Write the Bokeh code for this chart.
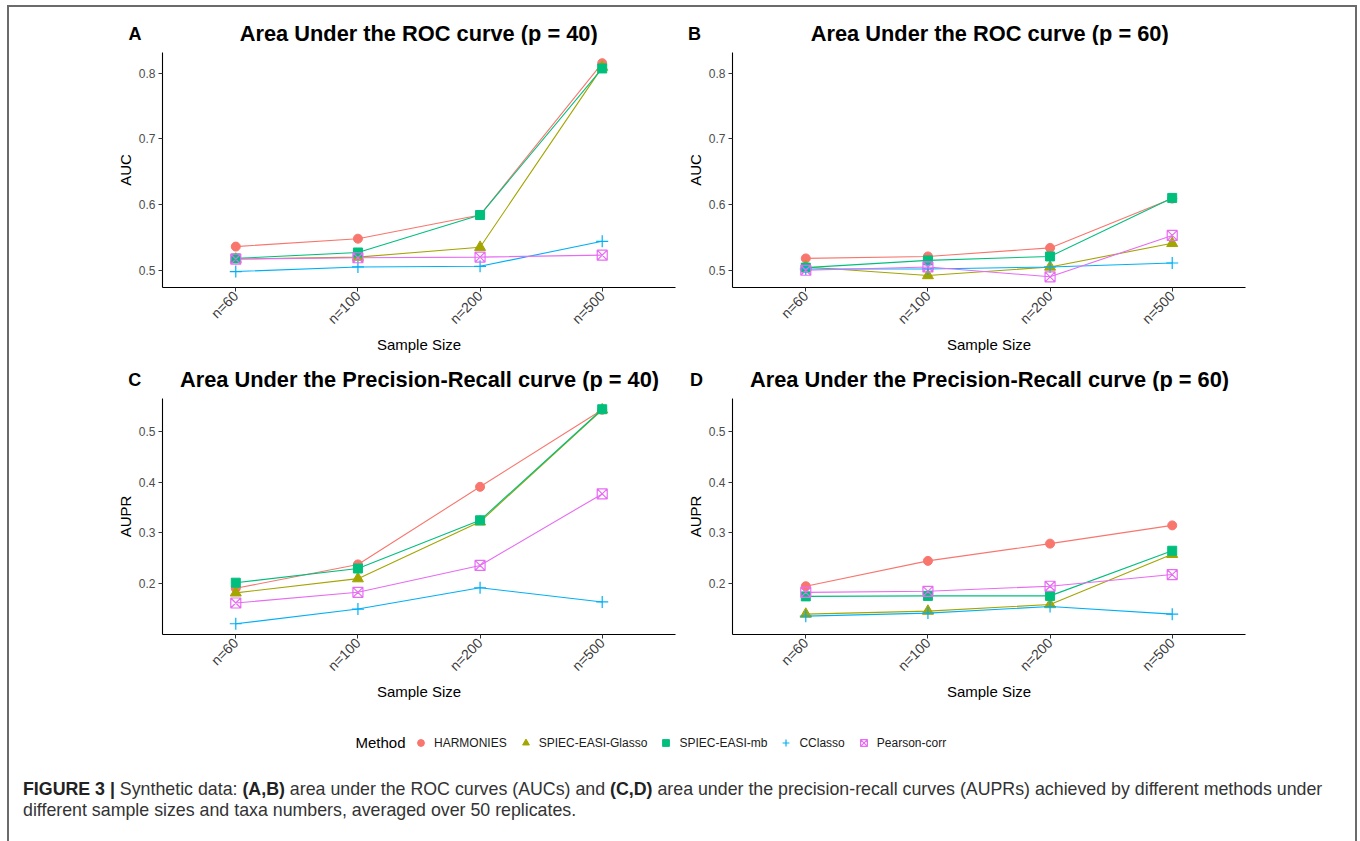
import math
from bokeh.plotting import figure
from bokeh.models import FactorRange, Range1d, FixedTicker, Label, Legend, LegendItem, Div, Spacer
from bokeh.layouts import row, column
from bokeh.embed import file_html
from bokeh.resources import INLINE

# ---------------- data ----------------
sample_sizes = ["n=60", "n=100", "n=200", "n=500"]
methods = ["HARMONIES", "SPIEC-EASI-Glasso", "SPIEC-EASI-mb", "CClasso", "Pearson-corr"]

# (A) AUC, p = 40
auc40_harmonies = [0.536, 0.548, 0.584, 0.815]
auc40_glasso = [0.517, 0.520, 0.535, 0.809]
auc40_mb = [0.518, 0.527, 0.584, 0.807]
auc40_cclasso = [0.498, 0.505, 0.506, 0.544]
auc40_pearson = [0.517, 0.519, 0.520, 0.523]

# (B) AUC, p = 60
auc60_harmonies = [0.518, 0.521, 0.534, 0.609]
auc60_glasso = [0.505, 0.492, 0.505, 0.541]
auc60_mb = [0.504, 0.515, 0.521, 0.610]
auc60_cclasso = [0.502, 0.502, 0.505, 0.511]
auc60_pearson = [0.500, 0.505, 0.490, 0.553]

# (C) AUPR, p = 40
aupr40_harmonies = [0.191, 0.238, 0.391, 0.543]
aupr40_glasso = [0.182, 0.210, 0.322, 0.543]
aupr40_mb = [0.202, 0.230, 0.325, 0.544]
aupr40_cclasso = [0.121, 0.150, 0.192, 0.164]
aupr40_pearson = [0.162, 0.183, 0.236, 0.377]

# (D) AUPR, p = 60
aupr60_harmonies = [0.195, 0.245, 0.279, 0.315]
aupr60_glasso = [0.140, 0.146, 0.159, 0.258]
aupr60_mb = [0.175, 0.176, 0.176, 0.265]
aupr60_cclasso = [0.136, 0.142, 0.155, 0.140]
aupr60_pearson = [0.183, 0.185, 0.195, 0.218]

auc_ticks = [0.5, 0.6, 0.7, 0.8]
aupr_ticks = [0.2, 0.3, 0.4, 0.5]

# ---------------- style ----------------
FONT = "Liberation Sans"
colors = ["#F8766D", "#A3A500", "#00BF7D", "#00B0F6", "#E76BF3"]
markers = ["circle", "triangle", "square", "cross", "square_x"]
msizes = [9, 11, 9, 12, 10]
PAGE_W = 1346


def draw_lines(p, values_list, visible=True):
    return [p.line(x=sample_sizes, y=vals, line_color=c, line_width=1.1, visible=visible)
            for vals, c in zip(values_list, colors)]


def draw_points(p, values_list, visible=True):
    out = []
    for vals, c, mk, sz in zip(values_list, colors, markers, msizes):
        if mk in ("cross", "square_x"):
            r = p.scatter(x=sample_sizes, y=vals, marker=mk, size=sz, fill_color=None,
                          line_color=c, line_width=1.2, visible=visible)
        else:
            r = p.scatter(x=sample_sizes, y=vals, marker=mk, size=sz, fill_color=c,
                          line_color=c, line_width=1, visible=visible)
        out.append(r)
    return out


def padded(values_lists):
    flat = [v for vals in values_lists for v in vals]
    lo, hi = min(flat), max(flat)
    pad = (hi - lo) * 0.05
    return lo - pad, hi + pad


def make_panel(values_list, y_range, y_ticks, y_label, width, height, left, right, top, bottom):
    p = figure(x_range=FactorRange(factors=sample_sizes, range_padding=0.05,
                                   range_padding_units="percent"),
               y_range=Range1d(*y_range), width=width, height=height,
               min_border_left=left, min_border_right=right,
               min_border_top=top, min_border_bottom=bottom,
               output_backend="svg", toolbar_location=None,
               background_fill_color="white", border_fill_color="white",
               outline_line_color=None)
    p.xgrid.visible = False
    p.ygrid.visible = False
    draw_lines(p, values_list)
    draw_points(p, values_list)
    p.yaxis.ticker = FixedTicker(ticks=y_ticks)
    p.xaxis.major_label_orientation = math.pi / 4
    p.xaxis.axis_label = "Sample Size"
    p.yaxis.axis_label = y_label
    for ax in (p.xaxis[0], p.yaxis[0]):
        ax.axis_line_color = "black"
        ax.axis_line_width = 1.1
        ax.major_tick_line_color = "#333333"
        ax.major_tick_out = 4
        ax.major_tick_in = 0
        ax.minor_tick_line_color = None
        ax.major_label_text_font = FONT
        ax.major_label_text_font_size = "12px"
        ax.major_label_text_color = "#4D4D4D"
        ax.major_label_standoff = 3
        ax.axis_label_text_font = FONT
        ax.axis_label_text_font_size = "15px"
        ax.axis_label_text_font_style = "normal"
        ax.axis_label_text_color = "black"
    p.xaxis.major_label_text_font_size = "14px"
    p.xaxis.major_label_text_color = "#3a3a3a"
    p.xaxis.major_label_standoff = 2
    p.xaxis.axis_label_standoff = 0
    p.yaxis.axis_label_standoff = 2
    return p


def title_strip(height, entries):
    s = figure(width=PAGE_W, height=height, x_range=Range1d(0, PAGE_W), y_range=Range1d(0, height),
               min_border=0, output_backend="svg", toolbar_location=None,
               x_axis_location=None, y_axis_location=None, outline_line_color=None,
               background_fill_color="white", border_fill_color="white")
    s.xgrid.visible = False
    s.ygrid.visible = False
    for text, x, y, size in entries:
        s.add_layout(Label(x=x, y=y, text=text, text_align="center", text_baseline="middle",
                           text_font=FONT, text_font_size=size, text_font_style="bold",
                           text_color="black"))
    return s


top_vals_A = [auc40_harmonies, auc40_glasso, auc40_mb, auc40_cclasso, auc40_pearson]
top_vals_B = [auc60_harmonies, auc60_glasso, auc60_mb, auc60_cclasso, auc60_pearson]
bot_vals_C = [aupr40_harmonies, aupr40_glasso, aupr40_mb, aupr40_cclasso, aupr40_pearson]
bot_vals_D = [aupr60_harmonies, aupr60_glasso, aupr60_mb, aupr60_cclasso, aupr60_pearson]

top_range = padded(top_vals_A + top_vals_B)
bot_range = padded(bot_vals_C + bot_vals_D)

strip1 = title_strip(38, [
    ("A", 125.5, 11.7, "18px"),
    ("Area Under the ROC curve (p = 40)", 409.2, 11.7, "21.8px"),
    ("B", 685.0, 11.7, "18px"),
    ("Area Under the ROC curve (p = 60)", 980.2, 11.7, "21.8px"),
])
pA = make_panel(top_vals_A, top_range, auc_ticks, "AUC", 671, 313, 153, 5, 7, 71)
pB = make_panel(top_vals_B, top_range, auc_ticks, "AUC", 675, 313, 52, 110, 7, 71)

strip2 = title_strip(33, [
    ("C", 125.2, 11.7, "18px"),
    ("Area Under the Precision-Recall curve (p = 40)", 410.0, 11.7, "21.8px"),
    ("D", 687.0, 11.7, "18px"),
    ("Area Under the Precision-Recall curve (p = 60)", 980.0, 11.7, "21.8px"),
])
pC = make_panel(bot_vals_C, bot_range, aupr_ticks, "AUPR", 671, 314, 153, 5, 7, 71)
pD = make_panel(bot_vals_D, bot_range, aupr_ticks, "AUPR", 675, 314, 52, 110, 7, 71)

# ---------------- legend strip ----------------
lf = figure(width=PAGE_W, height=74, x_range=FactorRange(factors=sample_sizes),
            y_range=Range1d(*bot_range),
            min_border=0, output_backend="svg", toolbar_location=None,
            x_axis_location=None, y_axis_location=None, outline_line_color=None,
            background_fill_color="white", border_fill_color="white")
lf.xgrid.visible = False
lf.ygrid.visible = False
legend_points = draw_points(lf, bot_vals_D, visible=False)
items = [LegendItem(label=m, renderers=[r]) for m, r in zip(methods, legend_points)]
leg = Legend(items=items, orientation="horizontal", location=(403, 28),
             label_text_font=FONT, label_text_font_size="12px", label_text_color="#1a1a1a",
             glyph_width=17, glyph_height=17, label_height=17, label_standoff=5, spacing=10,
             padding=0, margin=0, border_line_color=None, background_fill_alpha=0,
             inactive_fill_alpha=0)
lf.add_layout(leg)
lf.add_layout(Label(x=396, y=37, x_units="screen", y_units="screen", text="Method",
                    text_align="right", text_baseline="middle", text_font=FONT,
                    text_font_size="15px", text_color="black"))

# ---------------- caption ----------------
caption_html = (
    '<div style="padding-left:14px;font-family:\'Liberation Sans\';font-size:17.8px;'
    'line-height:21px;color:#333333;white-space:nowrap;">'
    '<b style="color:#222222">FIGURE 3 |</b> Synthetic data: <b style="color:#222222">(A,B)</b> '
    'area under the ROC curves (AUCs) and <b style="color:#222222">(C,D)</b> area under the '
    'precision-recall curves (AUPRs) achieved by different methods under<br>'
    'different sample sizes and taxa numbers, averaged over 50 replicates.</div>'
)
caption = Div(text=caption_html, width=PAGE_W, height=62, margin=0)

inner = column(strip1, row(pA, pB), strip2, row(pC, pD), lf, caption,
               styles={"border-top": "2px solid #6b6b6b",
                       "border-left": "2px solid #6b6b6b",
                       "border-right": "2px solid #6b6b6b"})
root = row(Spacer(width=7, height=10), column(Spacer(width=10, height=5), inner))

open("out.html", "w").write(file_html(root, INLINE))
